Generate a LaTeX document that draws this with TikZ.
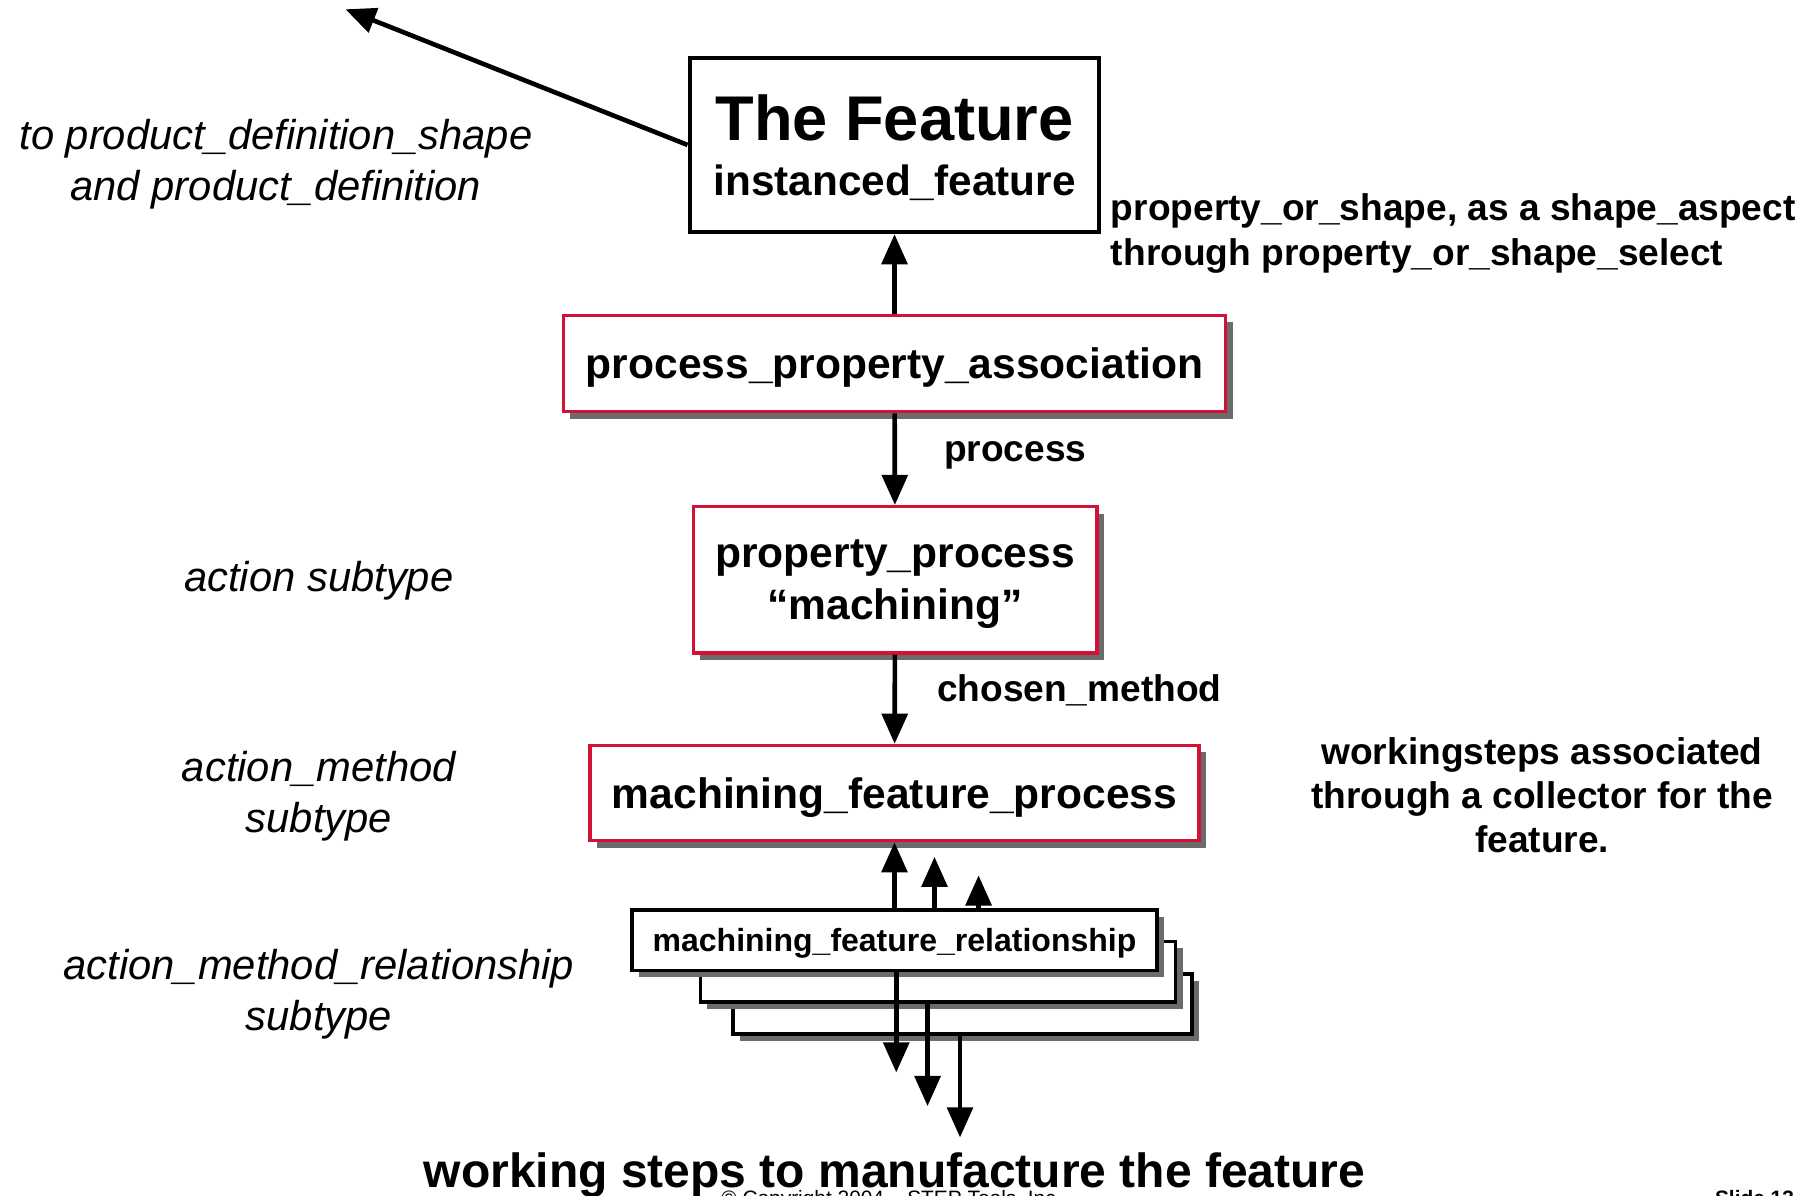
\documentclass[tikz,border=0pt]{standalone}
\usepackage{fontspec}
\setmainfont{Liberation Sans}
\usetikzlibrary{arrows.meta,shadows}
\definecolor{stepred}{RGB}{210,18,52}

\begin{document}
\begin{tikzpicture}[x=1pt,y=-1pt,
  every node/.style={inner sep=0pt},
  boxshadow/.style={drop shadow={shadow xshift=6pt,shadow yshift=-6pt,fill=black!58,opacity=1}},
  featbox/.style={draw,line width=4pt,minimum width=353pt,minimum height=150pt,text depth=-16pt,align=center,font=\fontsize{36.5}{48}\selectfont\bfseries},
  procbox/.style={draw=stepred,line width=3pt,fill=white,boxshadow,text depth=0pt,align=center,font=\fontsize{36.7}{45}\selectfont\bfseries},
  relbox/.style={draw,line width=3pt,fill=white,boxshadow,minimum height=52pt,text depth=0pt,font=\fontsize{27.6}{27.6}\selectfont\bfseries},
  role/.style={anchor=base west,align=left,font=\fontsize{32}{39}\selectfont\bfseries},
  note/.style={anchor=base,align=center,font=\fontsize{36}{44}\selectfont\itshape},
  link/.style={line width=4pt,-{Triangle[length=26pt,width=22pt]}}]
\useasboundingbox (0,0) rectangle (1568,1031);

% the chain of entities
\node[featbox] (feature) at (771.5,125) {{\fontsize{54.5}{54.5}\selectfont The Feature}\\instanced\_feature};
\node[procbox,minimum width=571pt,minimum height=83pt] (ppa) at (771.5,313.5) {process\_property\_association};
\node[procbox,minimum width=348pt,minimum height=126pt] (pp) at (772,500) {property\_process\\“machining”};
\node[procbox,minimum width=525pt,minimum height=82pt] (mfp) at (771.5,684) {machining\_feature\_process};
\node[relbox,minimum width=396pt] (mfrc) at (830,866) {};
\node[relbox,minimum width=410pt] (mfrb) at (809,838) {};
\node[relbox,minimum width=453pt] (mfr) at (771.5,811) {machining\_feature\_relationship};

% attribute names
\node[role] (shapeof) at (958,229) {property\_or\_shape, as a shape\_aspect\\through property\_or\_shape\_select};
\node[role] (procattr) at (814,398) {process};
\node[role] (methattr) at (808,605) {chosen\_method};
\node[anchor=base,align=center,font=\fontsize{32}{38}\selectfont\bfseries] (steps) at (1330,735) {workingsteps associated\\through a collector for the\\feature.};

% supertypes
\node[note] (topd) at (238,173) {to product\_definition\_shape\\and product\_definition};
\node[note] (actsub) at (275,510) {action subtype};
\node[note] (methsub) at (275,718) {action\_method\\subtype};
\node[note] (relsub) at (275,889) {action\_method\_relationship\\subtype};

% connectors
\coordinate (pd) at (298,8);
\coordinate (u2) at (806,739);
\coordinate (u3) at (844,755);
\coordinate (d1) at (773,925);
\coordinate (d2) at (800,954);
\coordinate (d3) at (828,981);
\draw[link] (feature.west) -- (pd);
\draw[link] (ppa) -- (feature);
\draw[link] (ppa) -- (pp);
\draw[link] (pp) -- (mfp);
\draw[link] (mfr) -- (mfp);
\draw[link] (mfr.north -| u2) -- (u2);
\draw[link] (mfr.north -| u3) -- (u3);
\draw[link] (mfr.south -| d1) -- (d1);
\draw[link] (mfrb.south -| d2) -- (d2);
\draw[link] (mfrc.south -| d3) -- (d3);

\node[anchor=base,font=\fontsize{41.4}{41.4}\selectfont\bfseries] (ws) at (771.5,1024) {working steps to manufacture the feature};
\node[anchor=base west,font=\fontsize{18}{18}\selectfont] (copy) at (622,1040) {© Copyright 2004 – STEP Tools, Inc.};
\node[anchor=base west,font=\fontsize{18}{18}\selectfont\bfseries] (slide) at (1479,1040) {Slide 13};
\end{tikzpicture}
\end{document}
